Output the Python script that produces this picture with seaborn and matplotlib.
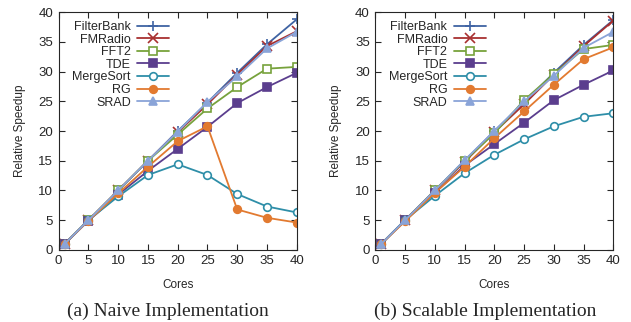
import matplotlib
matplotlib.use("Agg")
import matplotlib.pyplot as plt
import pandas as pd
import seaborn as sns

cores = [1, 5, 10, 15, 20, 25, 30, 35, 40]
benchmarks = ["FilterBank", "FMRadio", "FFT2", "TDE", "MergeSort", "RG", "SRAD"]

naive_filterbank = [1, 5, 10, 15, 20, 24.8, 29.8, 34.6, 38.8]
naive_fmradio = [1, 5, 10, 15, 19.8, 24.5, 29.5, 34.3, 36.8]
naive_fft2 = [1, 5, 10, 15, 19.4, 23.8, 27.4, 30.5, 30.8]
naive_tde = [1, 4.9, 9.3, 13.3, 17.0, 20.7, 24.7, 27.4, 29.8]
naive_mergesort = [1, 5, 9.0, 12.6, 14.4, 12.6, 9.4, 7.3, 6.3]
naive_rg = [1, 4.9, 9.5, 14.0, 18.3, 20.8, 6.8, 5.4, 4.6]
naive_srad = [1, 5, 10, 15, 19.9, 24.9, 29.2, 33.9, 36.7]

scal_filterbank = [1, 5, 10, 15, 20, 24.8, 29.8, 34.5, 38.7]
scal_fmradio = [1, 5, 10, 14.8, 19.8, 24.5, 29.5, 34.3, 38.6]
scal_fft2 = [1, 5, 10, 15, 19.6, 25.2, 29.6, 33.8, 34.5]
scal_tde = [1, 5, 9.6, 14.2, 17.8, 21.4, 25.2, 27.8, 30.2]
scal_mergesort = [1, 5, 9.1, 12.9, 16.0, 18.6, 20.8, 22.4, 23.0]
scal_rg = [1, 4.8, 9.6, 14.0, 18.8, 23.3, 27.8, 32.1, 34.1]
scal_srad = [1, 5, 10, 15.1, 20, 25, 29.3, 34.0, 36.7]

naive = [naive_filterbank, naive_fmradio, naive_fft2, naive_tde,
         naive_mergesort, naive_rg, naive_srad]
scalable = [scal_filterbank, scal_fmradio, scal_fft2, scal_tde,
            scal_mergesort, scal_rg, scal_srad]

colors = ["#3f63a3", "#a83030", "#77a23c", "#5b3e8e", "#2e8ea8", "#e27a30", "#8aa4d8"]
markers = ["+", "x", "s", "s", "o", "o", "^"]
hollow = [False, False, True, False, True, False, False]

sns.set_style("ticks")
plt.rcParams["font.family"] = ["Liberation Sans", "DejaVu Sans"]

fig, axes = plt.subplots(1, 2, figsize=(6.31, 3.22), dpi=100)
fig.subplots_adjust(left=0.093, right=0.972, top=0.962, bottom=0.224, wspace=0.33)

for ax, data, caption in zip(axes, [naive, scalable],
                             ["(a) Naive Implementation", "(b) Scalable Implementation"]):
    for name, vals, c, m, h in zip(benchmarks, data, colors, markers, hollow):
        df = pd.DataFrame({"Cores": cores, "Speedup": vals})
        sns.lineplot(data=df, x="Cores", y="Speedup", ax=ax, color=c, marker=m,
                     markersize=5.5 if m in "so^" else 6.5,
                     markerfacecolor="white" if h else c,
                     markeredgecolor=c, markeredgewidth=1.2,
                     linewidth=1.3, label=name)
    ax.set_xlim(0, 40)
    ax.set_ylim(0, 40)
    ax.set_xticks(range(0, 41, 5))
    ax.set_yticks(range(0, 41, 5))
    ax.tick_params(direction="in", top=True, right=True, labelsize=9.5, length=4,
                   width=0.8, pad=4)
    for s in ax.spines.values():
        s.set_visible(True)
        s.set_linewidth(0.8)
    ax.set_xlabel("Cores", fontsize=8.5, labelpad=8)
    ax.set_ylabel("Relative Speedup", fontsize=8.5, labelpad=9)
    ax.legend(loc="upper left", frameon=False, markerfirst=False, fontsize=9,
              handlelength=2.6, labelspacing=0.05, borderaxespad=0.3,
              handletextpad=0.5, bbox_to_anchor=(0.02, 1.0))
    ax.text(0.46, -0.277, caption, transform=ax.transAxes, ha="center",
            va="baseline", fontsize=14, family=["Liberation Serif", "DejaVu Serif"])

fig.savefig("out.png", dpi=100)
